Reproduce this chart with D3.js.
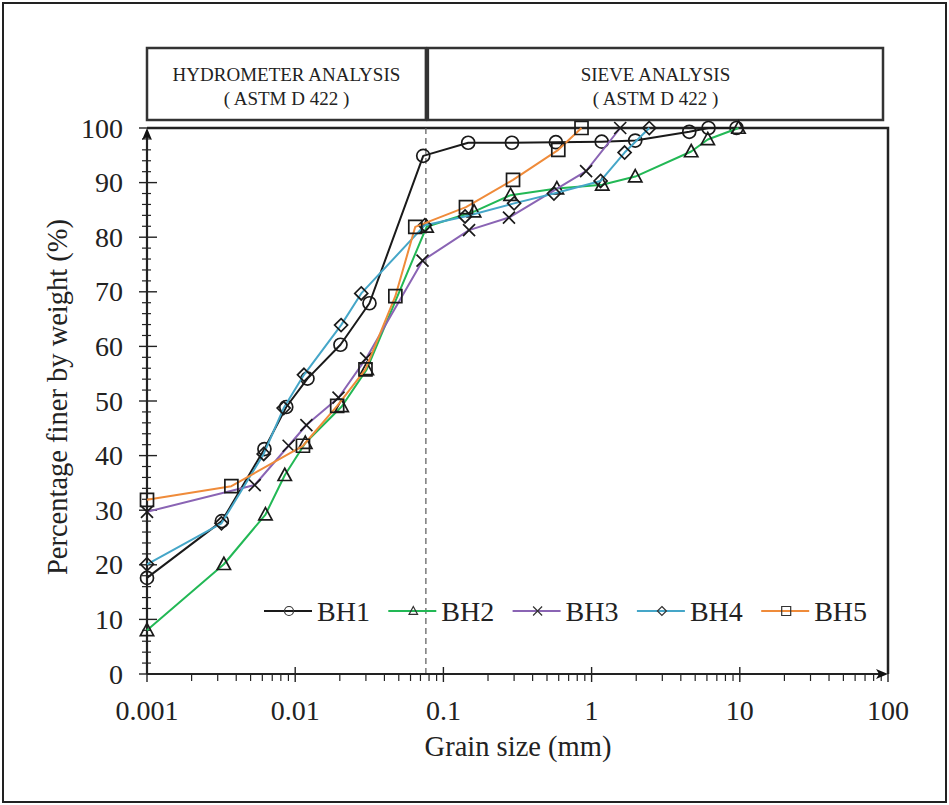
<!DOCTYPE html>
<html>
<head>
<meta charset="utf-8">
<script src="https://cdn.jsdelivr.net/npm/d3@7"></script>
<style>
  body { margin: 0; background: #fff; }
  text { font-family: "Liberation Serif", "Times New Roman", serif; fill: #222; }
</style>
</head>
<body>
<div id="chart"></div>
<script>
// grain size (mm) and percent passing
var bh1Size = [0.001, 0.0032, 0.0062, 0.0087, 0.0121, 0.0202, 0.0317, 0.0731, 0.147, 0.29, 0.574, 1.17, 1.97, 4.56, 6.15, 9.5];
var bh1Pass = [17.6, 28.0, 41.2, 48.9, 54.1, 60.3, 67.9, 94.9, 97.3, 97.3, 97.4, 97.5, 97.7, 99.3, 100, 100];

var bh2Size = [0.001, 0.0033, 0.0063, 0.0085, 0.0117, 0.0206, 0.0304, 0.077, 0.161, 0.284, 0.583, 1.18, 1.97, 4.7, 6.08, 9.8];
var bh2Pass = [8.0, 20.1, 29.2, 36.4, 42.3, 49.0, 55.8, 81.9, 84.7, 87.7, 88.9, 89.6, 91.1, 95.7, 97.9, 100];

var bh3Size = [0.001, 0.00533, 0.00903, 0.0119, 0.0196, 0.0301, 0.0723, 0.149, 0.277, 0.918, 1.56];
var bh3Pass = [29.7, 34.6, 41.8, 45.6, 50.6, 57.8, 75.7, 81.3, 83.6, 92.1, 100];

var bh4Size = [0.001, 0.00318, 0.00613, 0.00836, 0.01146, 0.0204, 0.0279, 0.075, 0.14, 0.30, 0.557, 1.15, 1.67, 2.45];
var bh4Pass = [20.1, 27.6, 40.3, 48.7, 54.8, 63.9, 69.7, 82.2, 83.8, 86.2, 88.0, 90.3, 95.5, 100];

var bh5Size = [0.001, 0.00371, 0.01128, 0.0192, 0.0298, 0.0474, 0.0646, 0.142, 0.295, 0.596, 0.855];
var bh5Pass = [31.9, 34.4, 41.8, 49.1, 55.8, 69.2, 81.9, 85.5, 90.5, 96.0, 100];

var seriesNames = ["BH1", "BH2", "BH3", "BH4", "BH5"];
var seriesColors = ["#1a1a1a", "#22b855", "#8a64b4", "#45a6c8", "#ef8b3a"];
var xTicks = [0.001, 0.01, 0.1, 1, 10, 100];
var xTickLabels = ["0.001", "0.01", "0.1", "1", "10", "100"];
var yTicks = [0, 10, 20, 30, 40, 50, 60, 70, 80, 90, 100];
var boundarySize = 0.075;   // hydrometer / sieve split

var headers = [
    {from: 0.001, to: boundarySize, lines: ["HYDROMETER ANALYSIS", "( ASTM D 422 )"]},
    {from: boundarySize, to: 100, lines: ["SIEVE ANALYSIS", "( ASTM D 422 )"]}
];

var sizes = [bh1Size, bh2Size, bh3Size, bh4Size, bh5Size];
var passes = [bh1Pass, bh2Pass, bh3Pass, bh4Pass, bh5Pass];

var W = 949, H = 805;
var svg = d3.select("#chart").append("svg")
    .attr("width", W)
    .attr("height", H);

svg.append("rect").attr("width", W).attr("height", H).attr("fill", "#fff");
// outer frame of the figure
svg.append("rect")
    .attr("x", 3).attr("y", 3).attr("width", W - 6).attr("height", H - 6)
    .attr("fill", "none").attr("stroke", "#222").attr("stroke-width", 2);

var x = d3.scaleLog().domain([0.001, 100]).range([147, 888]);
var y = d3.scaleLinear().domain([0, 100]).range([674, 128]);

// header boxes
headers.forEach(function(h, i){
    var x0 = i == 0 ? x(h.from) : x(h.from) + 3;
    var x1 = i == 0 ? x(h.to) + 1 : 883;
    svg.append("rect")
        .attr("x", x0).attr("y", 48)
        .attr("width", x1 - x0).attr("height", 72)
        .attr("fill", "#fff").attr("stroke", "#333").attr("stroke-width", 2.5);
    h.lines.forEach(function(t, j){
        svg.append("text")
            .attr("x", (x0 + x1) / 2)
            .attr("y", 81 + j * 24)
            .attr("text-anchor", "middle")
            .style("font-size", "19px")
            .text(t);
    });
});

// plot frame (top and right)
svg.append("path")
    .attr("d", "M" + x(0.001) + "," + y(100) + "H" + x(100) + "V" + y(0))
    .attr("fill", "none").attr("stroke", "#222").attr("stroke-width", 2.5);

// dashed boundary line
svg.append("line")
    .attr("x1", x(boundarySize) + 1).attr("x2", x(boundarySize) + 1)
    .attr("y1", y(100)).attr("y2", y(0))
    .attr("stroke", "#666").attr("stroke-width", 1.3)
    .attr("stroke-dasharray", "6,4");

// x axis: decades crossing, minor ticks below
var g = svg.append("g");
var xMinor = [];
for (var e = -3; e < 2; e++) {
    for (var m = 2; m <= 9; m++) xMinor.push(m * Math.pow(10, e));
}
g.selectAll(".xminor").data(xMinor).enter().append("line")
    .attr("x1", function(d){ return x(d); }).attr("x2", function(d){ return x(d); })
    .attr("y1", y(0)).attr("y2", y(0) + 7)
    .attr("stroke", "#222").attr("stroke-width", 1.2);
g.selectAll(".xmajor").data(xTicks).enter().append("line")
    .attr("x1", function(d){ return x(d); }).attr("x2", function(d){ return x(d); })
    .attr("y1", y(0) - 7).attr("y2", y(0) + 8)
    .attr("stroke", "#222").attr("stroke-width", 1.4);
g.selectAll(".xlab").data(xTicks).enter().append("text")
    .attr("x", function(d){ return x(d); })
    .attr("y", 720)
    .attr("text-anchor", "middle")
    .style("font-size", "28px")
    .text(function(d, i){ return xTickLabels[i]; });

// y axis: major ticks across, minor every 2
var yMinor = d3.range(0, 101, 2).filter(function(d){ return d % 10 != 0; });
g.selectAll(".yminor").data(yMinor).enter().append("line")
    .attr("x1", x(0.001) - 5).attr("x2", x(0.001) + 4)
    .attr("y1", function(d){ return y(d); }).attr("y2", function(d){ return y(d); })
    .attr("stroke", "#222").attr("stroke-width", 1.2);
g.selectAll(".ymajor").data(yTicks).enter().append("line")
    .attr("x1", x(0.001) - 8).attr("x2", x(0.001) + 10)
    .attr("y1", function(d){ return y(d); }).attr("y2", function(d){ return y(d); })
    .attr("stroke", "#222").attr("stroke-width", 1.4);
g.selectAll(".ylab").data(yTicks).enter().append("text")
    .attr("x", 123)
    .attr("y", function(d){ return y(d) + 9.5; })
    .attr("text-anchor", "end")
    .style("font-size", "28px")
    .text(function(d){ return d; });

// axis lines with arrow heads
g.append("line")
    .attr("x1", x(0.001)).attr("x2", x(100) - 6)
    .attr("y1", y(0)).attr("y2", y(0))
    .attr("stroke", "#222").attr("stroke-width", 2.2);
g.append("line")
    .attr("x1", x(0.001)).attr("x2", x(0.001))
    .attr("y1", y(0)).attr("y2", y(100) + 6)
    .attr("stroke", "#222").attr("stroke-width", 2.2);
g.append("path")
    .attr("d", "M" + x(100) + "," + y(0) + "l-12,-5l3,5l-3,5z")
    .attr("fill", "#111");
g.append("path")
    .attr("d", "M" + x(0.001) + "," + y(100) + "l-5,12l5,-3l5,3z")
    .attr("fill", "#111");

// marker shapes
var shapes = [
    {draw: function(c, s){ c.moveTo(s, 0); c.arc(0, 0, s, 0, 2 * Math.PI); }},
    {draw: function(c, s){ c.moveTo(0, -s); c.lineTo(s * 0.95, s * 0.75); c.lineTo(-s * 0.95, s * 0.75); c.closePath(); }},
    {draw: function(c, s){ c.moveTo(-s, -s); c.lineTo(s, s); c.moveTo(s, -s); c.lineTo(-s, s); }},
    {draw: function(c, s){ c.moveTo(0, -s); c.lineTo(s, 0); c.lineTo(0, s); c.lineTo(-s, 0); c.closePath(); }},
    {draw: function(c, s){ c.moveTo(-s, -s); c.lineTo(s, -s); c.lineTo(s, s); c.lineTo(-s, s); c.closePath(); }}
];
var markSize = [6.5, 7, 6, 6.5, 6.5];

var line = d3.line()
    .x(function(d){ return x(d[0]); })
    .y(function(d){ return y(d[1]); });

seriesNames.forEach(function(name, i){
    var pts = sizes[i].map(function(s, j){ return [s, passes[i][j]]; });
    var sg = svg.append("g");
    sg.append("path")
        .datum(pts)
        .attr("d", line)
        .attr("fill", "none")
        .attr("stroke", seriesColors[i])
        .attr("stroke-width", 2)
        .attr("stroke-linejoin", "round");
    sg.selectAll("path.mk").data(pts).enter().append("path")
        .attr("class", "mk")
        .attr("transform", function(d){ return "translate(" + x(d[0]) + "," + y(d[1]) + ")"; })
        .attr("d", d3.symbol().type(shapes[i]).size(markSize[i]))
        .attr("fill", "none")
        .attr("stroke", "#1a1a1a")
        .attr("stroke-width", 1.7);
});

// legend
var legX0 = 264, legStep = 124.3, legY = 611;
seriesNames.forEach(function(name, i){
    var lx = legX0 + i * legStep;
    svg.append("line")
        .attr("x1", lx).attr("x2", lx + 48)
        .attr("y1", legY).attr("y2", legY)
        .attr("stroke", seriesColors[i]).attr("stroke-width", 2.2);
    svg.append("path")
        .attr("transform", "translate(" + (lx + 25) + "," + legY + ")")
        .attr("d", d3.symbol().type(shapes[i]).size(4.5))
        .attr("fill", "none").attr("stroke", "#333").attr("stroke-width", 1.2);
    svg.append("text")
        .attr("x", lx + 53)
        .attr("y", legY + 10)
        .style("font-size", "28px")
        .text(name);
});

// axis titles
svg.append("text")
    .attr("x", 518).attr("y", 756)
    .attr("text-anchor", "middle")
    .style("font-size", "28.5px")
    .text("Grain size (mm)");
svg.append("text")
    .attr("transform", "translate(67,397) rotate(-90)")
    .attr("text-anchor", "middle")
    .style("font-size", "28.5px")
    .text("Percentage finer by weight (%)");
</script>
</body>
</html>
